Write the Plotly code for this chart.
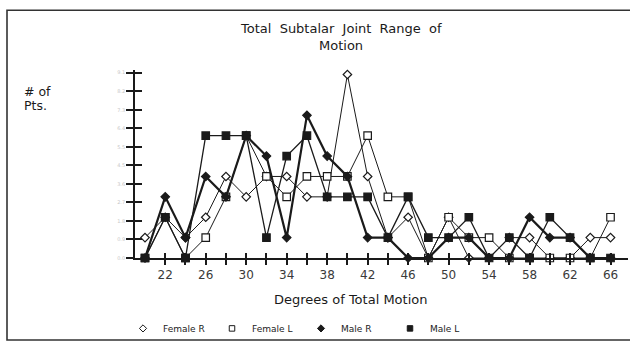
import plotly.graph_objects as go

# ---------------- data ----------------
degrees = [20, 22, 24, 26, 28, 30, 32, 34, 36, 38, 40, 42, 44, 46, 48, 50, 52, 54, 56, 58, 60, 62, 64, 66]
female_r = [1, 2, 1, 2, 4, 3, 4, 4, 3, 3, 9, 4, 1, 2, 0, 2, 0, 0, 1, 1, 0, 0, 1, 1]
female_l = [0, 2, 0, 1, 3, 6, 4, 3, 4, 4, 4, 6, 3, 3, 0, 2, 1, 1, 0, 0, 0, 0, 0, 2]
male_r = [0, 3, 1, 4, 3, 6, 5, 1, 7, 5, 4, 1, 1, 0, 0, 1, 1, 0, 0, 2, 1, 1, 0, 0]
male_l = [0, 2, 0, 6, 6, 6, 1, 5, 6, 3, 3, 3, 1, 3, 1, 1, 2, 0, 1, 0, 2, 1, 0, 0]

x_ticks = list(range(22, 67, 2))
x_tick_text = [str(v) if (v - 22) % 4 == 0 else "" for v in x_ticks]
y_ticks = [i * 10 / 11 for i in range(11)]
y_tick_text = [f"{v:.1f}" for v in y_ticks]

title_lines = ["Total Subtalar Joint Range of", "Motion"]
y_title_lines = ["# of", "Pts."]
x_title = "Degrees of Total Motion"

# ---------------- geometry helpers (pixels -> paper) ----------------
W, H = 630, 344
PL, PR, PT, PB = 135, 628, 70, 258.7
X0, Y0 = 20, 0
XPX, YPX = 10.12, 20.46


def px(xp):
    return (xp - PL) / (PR - PL)


def py(yp):
    return (PB - yp) / (PB - PT)


def wide(s):
    return s.replace(" ", "\u00a0\u00a0")


x_range = [X0 - (145 - PL) / XPX, X0 + (PR - 145) / XPX]
y_range = [0, (PB - PT) / YPX]

FONT = "DejaVu Sans"
INK = "#1a1a1a"

# name, values, symbol, fill, line width, marker size
series = [
    ("Female R", female_r, "diamond", "white", 1.0, 6.5),
    ("Female L", female_l, "square", "white", 1.0, 7.5),
    ("Male R", male_r, "diamond", INK, 2.2, 6.5),
    ("Male L", male_l, "square", INK, 1.3, 7.5),
]

fig = go.Figure()
for name, vals, sym, fill, lw, ms in series:
    fig.add_trace(go.Scatter(
        x=degrees, y=vals, mode="lines+markers", name=name, showlegend=False,
        line=dict(color=INK, width=lw),
        marker=dict(symbol=sym, size=ms, color=fill, line=dict(color=INK, width=1.2)),
        cliponaxis=False,
    ))
# legend-only entries (marker only)
for name, vals, sym, fill, lw, ms in series:
    fig.add_trace(go.Scatter(
        x=[None], y=[None], mode="markers", name=name, showlegend=True,
        marker=dict(symbol=sym, size=5.5, color=fill, line=dict(color=INK, width=1)),
    ))
# dummy trace for overlay axes (crossing ticks)
fig.add_trace(go.Scatter(x=[None], y=[None], xaxis="x2", yaxis="y2", showlegend=False,
                         hoverinfo="skip"))

axis_common = dict(showgrid=False, zeroline=False, tickcolor=INK, tickwidth=1.8)
fig.update_layout(
    width=W, height=H,
    margin=dict(l=PL, r=W - PR, t=PT, b=H - PB),
    paper_bgcolor="white", plot_bgcolor="white",
    font=dict(family=FONT, color=INK),
    xaxis=dict(range=x_range, tickvals=x_ticks, ticktext=x_tick_text, ticks="outside",
               ticklen=5, showline=True, linecolor=INK, linewidth=1.8,
               tickfont=dict(size=12, color="#3a3a3a"), **axis_common),
    yaxis=dict(range=y_range, tickvals=y_ticks, ticktext=y_tick_text, ticks="outside",
               ticklen=7, showline=True, linecolor=INK, linewidth=1.8,
               tickfont=dict(size=5, color="#c8c8c8"), **axis_common),
    xaxis2=dict(range=x_range, overlaying="x", anchor="y", tickvals=x_ticks, ticks="inside",
                ticklen=5, showticklabels=False, showline=False, **axis_common),
    yaxis2=dict(range=y_range, overlaying="y", anchor="x", tickvals=y_ticks, ticks="inside",
                ticklen=7, showticklabels=False, showline=False, **axis_common),
    showlegend=True,
    legend=dict(orientation="h", x=px(123), y=py(328), xanchor="left", yanchor="middle",
                entrywidth=44, entrywidthmode="pixels", font=dict(size=9, color="#222"),
                bgcolor="rgba(0,0,0,0)", itemclick=False),
)

annotations = []
for i, t in enumerate(title_lines):
    annotations.append(dict(text=wide(t), x=px(341), y=py(28 + 17 * i), xref="paper", yref="paper",
                            showarrow=False, font=dict(size=13, color=INK), xanchor="center",
                            yanchor="middle"))
for i, t in enumerate(y_title_lines):
    annotations.append(dict(text=t, x=px(22), y=py(92 + 14 * i), xref="paper", yref="paper",
                            showarrow=False, font=dict(size=12.5, color=INK), xanchor="left",
                            yanchor="middle"))
annotations.append(dict(text=x_title, x=px(350), y=py(300), xref="paper", yref="paper",
                        showarrow=False, font=dict(size=13, color=INK), xanchor="center",
                        yanchor="middle"))
fig.update_layout(annotations=annotations)

# outer frame of the figure
fig.add_shape(type="rect", xref="paper", yref="paper", x0=px(7), x1=px(640), y0=py(341), y1=py(10),
              line=dict(color="#333", width=1.6), layer="below")

fig.write_html("out.html", config={"displayModeBar": False},
               post_script="document.body.style.margin='0';")
